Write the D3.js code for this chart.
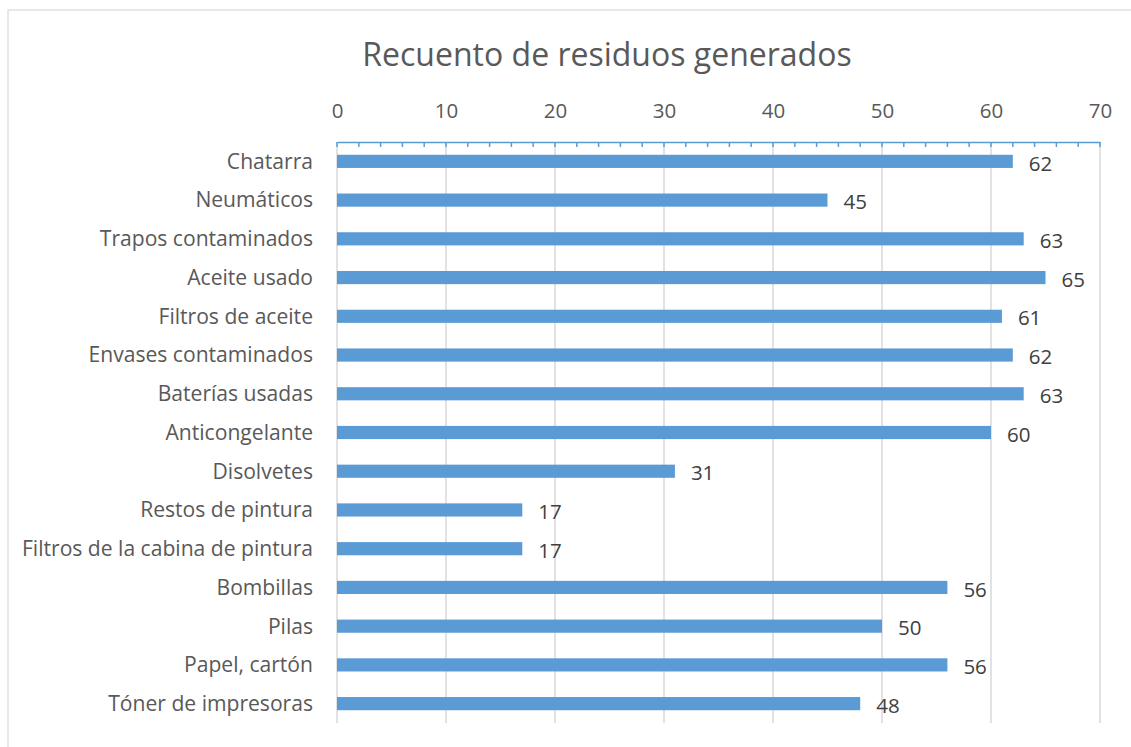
<!DOCTYPE html>
<html><head><meta charset="utf-8">
<script src="https://cdn.jsdelivr.net/npm/d3@7/dist/d3.min.js"></script>
<style>body{margin:0;background:#fff}text{font-family:"Open Sans",sans-serif}</style>
</head><body><svg id="c" width="1131" height="747"></svg>
<script>
const categories = ["Chatarra","Neumáticos","Trapos contaminados","Aceite usado","Filtros de aceite","Envases contaminados","Baterías usadas","Anticongelante","Disolvetes","Restos de pintura","Filtros de la cabina de pintura","Bombillas","Pilas","Papel, cartón","Tóner de impresoras"];
const values = [62,45,63,65,61,62,63,60,31,17,17,56,50,56,48];
const tickValues = [0,10,20,30,40,50,60,70];
const title = "Recuento de residuos generados";

const svg = d3.select("#c");
svg.append("rect").attr("x",8).attr("y",10).attr("width",1140).attr("height",760)
  .attr("fill","none").attr("stroke","#d9d9d9").attr("stroke-width",1.2);

const x = d3.scaleLinear().domain([0,70]).range([337,1100]);
const y = d3.scaleBand().domain(categories).range([142,723]).paddingInner(0.66).paddingOuter(0.33);

svg.append("text").attr("x",607).attr("y",66).attr("text-anchor","middle")
  .attr("font-size",32).attr("fill","#595959").text(title);

// gridlines
svg.append("g").selectAll("line").data(tickValues).join("line")
  .attr("x1",d=>x(d)).attr("x2",d=>x(d)).attr("y1",142).attr("y2",723)
  .attr("stroke","#d9d9d9").attr("stroke-width",1.5);

// bars
svg.append("g").selectAll("rect").data(values).join("rect")
  .attr("x",x(0)).attr("y",(d,i)=>y(categories[i]))
  .attr("width",d=>x(d)-x(0)).attr("height",y.bandwidth()).attr("fill","#5b9bd5");

// axis
const axis = d3.axisTop(x).tickValues(tickValues).tickSize(0).tickPadding(24).tickFormat(d3.format("d"));
const ag = svg.append("g").attr("transform","translate(0,142)").call(axis);
ag.select(".domain").attr("stroke","#5b9bd5").attr("stroke-width",1.5);
ag.selectAll("text").attr("font-size",20.5).attr("fill","#595959").attr("font-family","Open Sans");
// minor ticks
svg.append("g").selectAll("line").data(d3.range(0,71,2)).join("line")
  .attr("x1",d=>x(d)).attr("x2",d=>x(d)).attr("y1",142).attr("y2",147)
  .attr("stroke","#5b9bd5").attr("stroke-width",1.5);

// category labels
svg.append("g").selectAll("text").data(categories).join("text")
  .attr("x",313).attr("y",d=>y(d)+y.bandwidth()/2).attr("dy","0.35em")
  .attr("text-anchor","end").attr("font-size",21.1).attr("fill","#595959").text(d=>d);

// value labels
svg.append("g").selectAll("text").data(values).join("text")
  .attr("x",d=>x(d)+16).attr("y",(d,i)=>y(categories[i])+y.bandwidth()/2+2).attr("dy","0.35em")
  .attr("font-size",20.5).attr("fill","#404040").text(d=>d);
</script></body></html>
